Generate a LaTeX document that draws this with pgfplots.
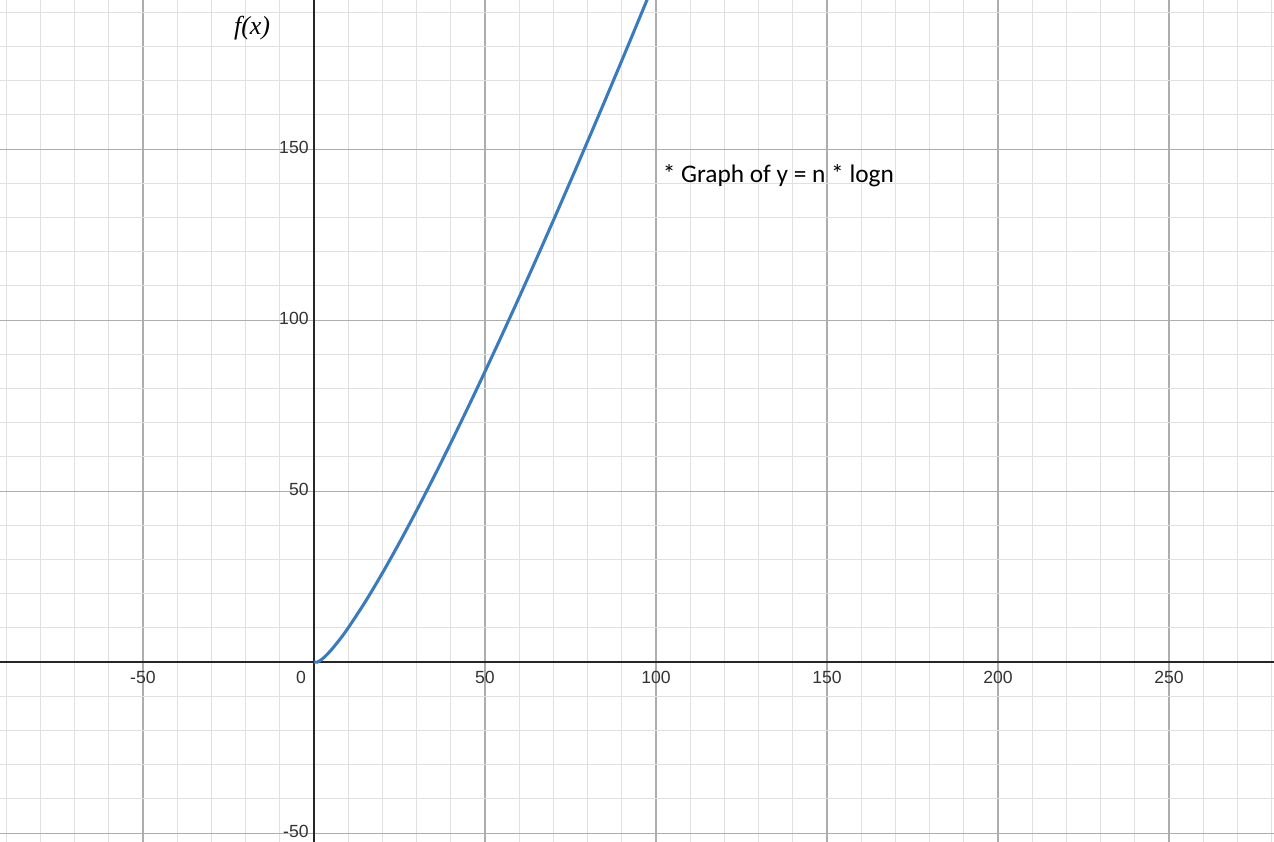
\documentclass[border=0pt]{standalone}
\usepackage{pgfplots}
\pgfplotsset{compat=1.18}
\usepackage{fontspec}
\setmainfont{Liberation Sans}
\newfontfamily\calfont{Carlito}
\newfontfamily\serifit{Liberation Serif}
\definecolor{curve}{HTML}{3A7BC0}
\definecolor{lab}{HTML}{333333}
\begin{document}
\begin{tikzpicture}
\begin{axis}[
  scale only axis, width=955.5pt, height=631.5pt,
  xmin=-91.8, xmax=280.7, ymin=-52.6, ymax=193.6,
  axis line style={draw=none},
  tick style={draw=none},
  xtick={-50,0,...,250}, ytick={-50,0,...,150},
  minor xtick={-90,-80,...,280}, minor ytick={-50,-40,...,190},
  xticklabels={}, yticklabels={},
  grid=both,
  major grid style={color=black!32, line width=0.9pt},
  minor grid style={color=black!12, line width=0.75pt},
]
\draw[line width=1.5pt, color=black!85] (axis cs:-91.8,0) -- (axis cs:280.7,0);
\draw[line width=1.5pt, color=black!85] (axis cs:0,-52.6) -- (axis cs:0,193.6);
\addplot[curve, line width=2.3pt, smooth] coordinates {
(0,0) (1,0) (2,0.602) (3,1.431) (5,3.495) (7.5,6.563) (10,10)
(15,17.64) (20,26.02) (25,34.95) (30,44.31) (35,54.04) (40,64.08)
(45,74.40) (50,84.95) (55,95.72) (60,106.69) (65,117.84) (70,129.16)
(75,140.63) (80,152.25) (85,164.00) (90,175.88) (95,187.88) (100,200)
};
\pgfplotsinvokeforeach{-50,50,100,150,200,250}{
  \node[anchor=north, font=\fontsize{13.2}{15}\selectfont, text=lab, yshift=-3.4pt] at (axis cs:#1,0) {#1};
}
\node[anchor=north east, font=\fontsize{13.2}{15}\selectfont, text=lab, yshift=-3.4pt, xshift=-2.5pt] at (axis cs:0,0) {0};
\pgfplotsinvokeforeach{-50,50,100,150}{
  \node[anchor=east, font=\fontsize{13.2}{15}\selectfont, text=lab, xshift=-0.5pt, yshift=1.5pt] at (axis cs:0,#1) {#1};
}
\node[anchor=west, font=\calfont\fontsize{19}{22}\selectfont] at (axis cs:100.6,142.1) {* Graph of y = n * logn};
\node[font=\serifit\itshape\fontsize{19.5}{22}\selectfont] at (axis cs:-18.1,185.4) {f(x)};
\end{axis}
\pgfresetboundingbox
\useasboundingbox (current axis.south west) rectangle (current axis.north east);
\end{tikzpicture}
\end{document}
